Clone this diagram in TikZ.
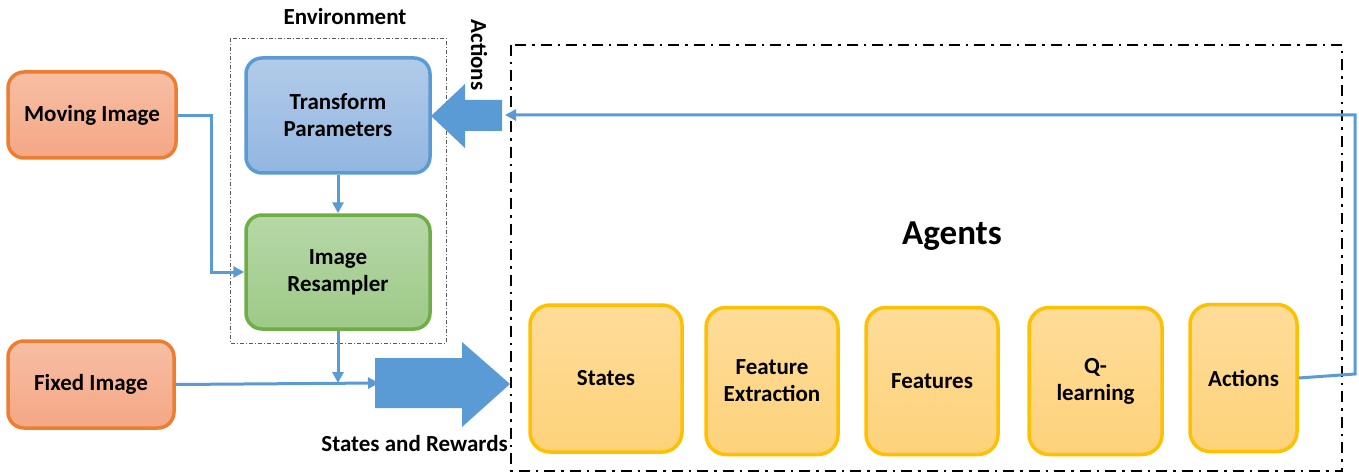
\documentclass[tikz,border=0pt]{standalone}
\usepackage{fontspec}
\setmainfont{Carlito}
\usetikzlibrary{arrows.meta}
\definecolor{oBord}{HTML}{ED7D31}
\definecolor{oTop}{HTML}{F7BEA4}
\definecolor{oBot}{HTML}{F4A785}
\definecolor{bBord}{HTML}{5B9BD5}
\definecolor{bTop}{HTML}{B2CBE9}
\definecolor{bBot}{HTML}{92B6E1}
\definecolor{gBord}{HTML}{70AD47}
\definecolor{gTop}{HTML}{B7D7A8}
\definecolor{gBot}{HTML}{9DCA87}
\definecolor{yBord}{HTML}{FFC000}
\definecolor{yTop}{HTML}{FFDC99}
\definecolor{yBot}{HTML}{FDD27A}
\definecolor{arr}{HTML}{5B9BD5}
\tikzset{
  box/.style={draw, line width=3.5pt, rounded corners=16pt, align=center,
    font=\bfseries\fontsize{23}{27}\selectfont, inner sep=0pt},
  obox/.style={box, draw=oBord, top color=oTop, bottom color=oBot},
  bbox/.style={box, draw=bBord, top color=bTop, bottom color=bBot},
  gbox/.style={box, draw=gBord, top color=gTop, bottom color=gBot},
  ybox/.style={box, draw=yBord, top color=yTop, bottom color=yBot, rounded corners=20pt, minimum height=147pt},
  conn/.style={draw=arr, line width=3pt, -{Triangle[length=11pt,width=11pt]}},
  lbl/.style={font=\bfseries\fontsize{23}{27}\selectfont, inner sep=0pt},
}
\begin{document}
\begin{tikzpicture}[x=1pt,y=-1pt]
\useasboundingbox (0,0) rectangle (1359,473);
% environment frame
\draw[gray!70!black, line width=0.8pt, dash pattern=on 4pt off 2pt on 1pt off 2pt] (230,38) rectangle (446,343);
\node[lbl] (envlbl) at (345,17) {Environment};
% agents frame
\draw[black, line width=2pt, dash pattern=on 11pt off 6pt on 2.5pt off 6pt] (511,45) rectangle (1342,471);
\node[font=\bfseries\fontsize{35}{40}\selectfont, inner sep=0pt] (agentslbl) at (952,236) {Agents};
% nodes
\node[obox, minimum width=168pt, minimum height=86pt] (mov) at (92,115) {Moving Image};
\node[obox, minimum width=166pt, minimum height=87pt] (fix) at (91,384.5) {Fixed Image};
\node[bbox, minimum width=184pt, minimum height=115pt] (tp) at (338,115.5) {Transform\\Parameters};
\node[gbox, minimum width=184pt, minimum height=114pt] (ir) at (338,272) {Image\\Resampler};
\node[ybox, minimum width=152pt] (st) at (606,378.5) {States};
\node[ybox, minimum width=132pt] (fe) at (772,381) {Feature\\Extraction};
\node[ybox, minimum width=132pt] (ft) at (932,381) {Features};
\node[ybox, minimum width=133pt] (ql) at (1095.5,381) {Q-\\learning};
\node[ybox, minimum width=107pt] (ac) at (1243.5,378) {Actions};
% connectors
\coordinate (j1) at (211,116);
\coordinate (j2) at (211,272);
\draw[conn] (mov.east |- j1) -- (j1) -- (j2) -- (ir.west);
\draw[conn] (tp.south) -- (ir.north);
\coordinate (fj) at (338,383);
\coordinate (fe1) at (379,383);
\draw[conn] (fix.east) -- (fe1);
\draw[conn] (ir.south) -- (fj);
% big block arrow (states and rewards)
\fill[arr] (375,358) -- (462,358) -- (462,342) -- (510,384) -- (462,427) -- (462,408) -- (375,408) -- cycle;
\node[lbl, anchor=east] (srlbl) at (508,444) {States and Rewards};
% actions block arrow
\fill[arr] (502,100) -- (465,100) -- (465,84) -- (431,116) -- (465,148) -- (465,131) -- (502,131) -- cycle;
\node[lbl, rotate=-90] (aclbl) at (479,55) {Actions};
% feedback
\coordinate (r1) at (1355,374);
\coordinate (r2) at (1355,115);
\coordinate (r3) at (505,115);
\draw[conn] (ac.east) -- (r1) -- (r2) -- (r3);
\end{tikzpicture}
\end{document}
